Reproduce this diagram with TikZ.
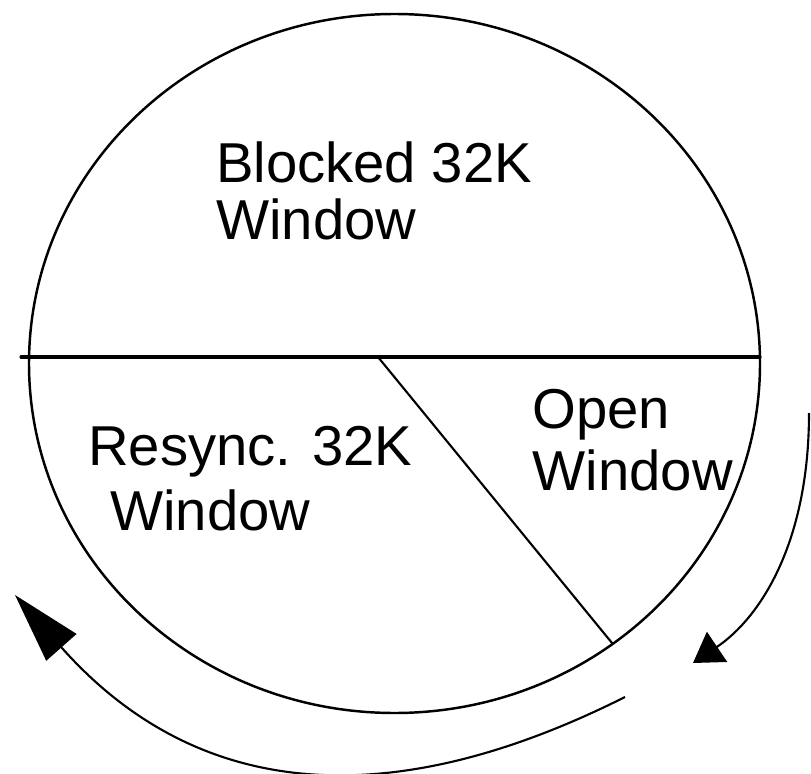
\documentclass[tikz,border=0pt]{standalone}
\usepackage{fontspec}
\setmainfont{Liberation Sans}
\usepackage{tkz-euclide}
\usetikzlibrary{arrows.meta}

\tikzset{
	winlabel/.style={font=\fontsize{16}{16.5}\selectfont,align=left,anchor=base west,inner sep=0pt},
	turn/.style={line width=0.6pt}
}

\begin{document}
\begin{tikzpicture}
		\useasboundingbox (0,0) rectangle (8.11,7.73);
		%\tkzDrawX
		%\tkzDrawY
		\tkzDefPoint(3.945,4.095){O}
		\tkzDefPoint(0.21,4.16){L}
		\tkzDefPoint(7.60,4.16){R}
		\tkzDefPoint(3.78,4.16){S}
		\tkzDefPoint(6.12,1.30){T}

		% the ring
		\draw[line width=0.7pt] (O) ellipse [x radius=3.655,y radius=3.495];

		\tkzDrawSegment[line width=0.9pt](L,R)
		\tkzDrawSegment[line width=0.6pt](S,T)

		% labels of the three parts (base = last line)
		\node[winlabel] (blocked) at (2.155,5.33) {Blocked 32K\\Window};
		\node[winlabel] (resync) at (0.875,2.43) {Resync. 32K\\[0.07cm]\hspace*{0.22cm}Window};
		\node[winlabel] (open) at (5.32,2.83) {Open\\[0.04cm]Window};

		% turning arrows
		\tkzDefPoint(8.09,3.60){A}
		\tkzDefPoint(6.93,1.10){A'}
		\tkzDefPoint(6.25,0.76){B}
		\tkzDefPoint(0.15,1.78){B'}
		\draw[turn,-{Triangle[length=2.9mm,width=3.6mm]}]
			(A) .. controls (8.09,2.3) and (7.6,1.55) .. (A');
		\draw[turn,-{Triangle[length=7mm,width=4mm]}]
			(B) .. controls (3.84,-0.45) and (1.94,-0.24) .. (B');
	\end{tikzpicture}
\end{document}
